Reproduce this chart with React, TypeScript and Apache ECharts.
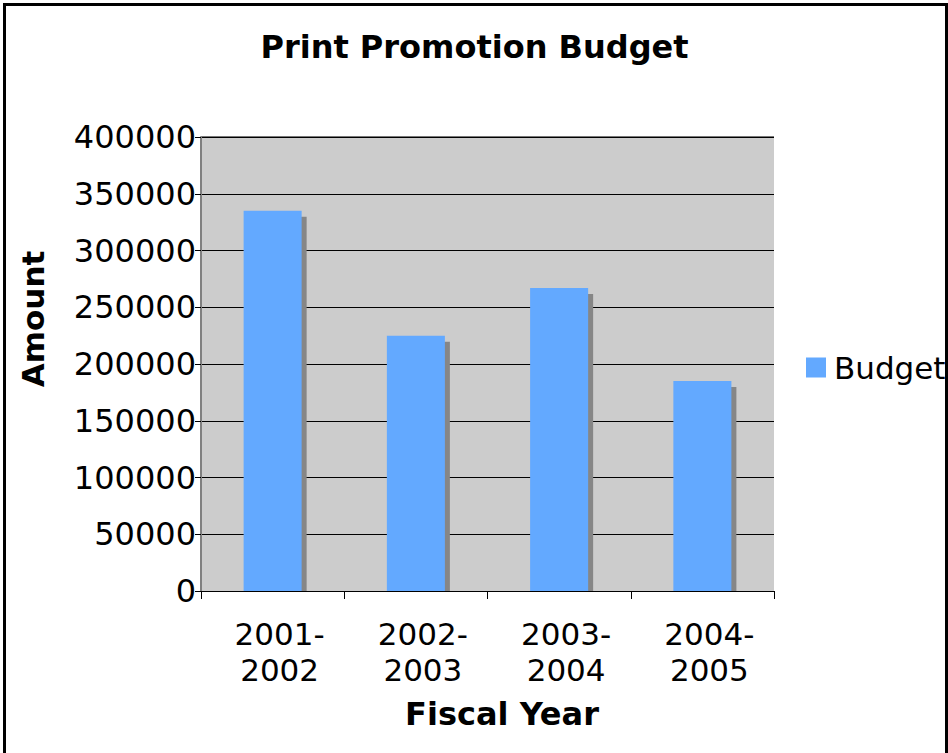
import React, { useEffect, useRef } from "react";
import * as echarts from "echarts";

const categories = ["2001-\n2002", "2002-\n2003", "2003-\n2004", "2004-\n2005"];
const budget = [335000, 225000, 267000, 185000];
const seriesName = "Budget";
const titleText = "Print Promotion Budget";
const xName = "Fiscal Year";
const yName = "Amount";

const BAR = "#63a9ff";
const SHADOW = "#868686";
const FONT = "DejaVu Sans";

export default function App() {
  const ref = useRef<HTMLDivElement>(null);
  useEffect(() => {
    const chart = echarts.init(ref.current!, null, { renderer: "svg" });
    chart.setOption({
      animation: false,
      backgroundColor: "#ffffff",
      legend: {
        left: 806,
        top: 352,
        padding: 0,
        itemWidth: 20,
        itemHeight: 20,
        data: [{ name: seriesName, icon: "rect", itemStyle: { color: BAR } }],
        textStyle: { fontFamily: FONT, fontSize: 31, color: "#000", padding: [0, 0, 0, 3] },
      },
      grid: {
        left: 201,
        top: 137,
        right: 948 - 774,
        bottom: 753 - 591,
        show: true,
        backgroundColor: "#cccccc",
        borderWidth: 0,
        containLabel: false,
      },
      xAxis: {
        type: "category",
        data: categories,
        axisLine: { show: true, lineStyle: { color: "#000", width: 1 } },
        axisTick: { show: true, length: 8, lineStyle: { color: "#000" }, alignWithLabel: false },
        axisLabel: {
          margin: 25,
          fontFamily: FONT,
          fontSize: 31,
          color: "#000",
          lineHeight: 36,
          interval: 0,
          padding: [0, 0, 0, 14],
        },
        splitLine: { show: false },
      },
      yAxis: {
        type: "value",
        min: 0,
        max: 400000,
        interval: 50000,
        axisLine: { show: true, lineStyle: { color: "#808080", width: 2 } },
        axisTick: { show: true, length: 6, lineStyle: { color: "#000" } },
        axisLabel: {
          margin: 5,
          fontFamily: FONT,
          fontSize: 32,
          color: "#000",
          padding: [6, 0, 0, 0],
          formatter: (v: number) => String(v),
        },
        splitLine: { show: true, lineStyle: { color: "#000", width: 1 } },
      },
      graphic: [
        {
          type: "text",
          x: 474.5,
          y: 47,
          style: {
            text: titleText,
            fontFamily: FONT,
            fontWeight: "bold",
            fontSize: 32,
            fill: "#000",
            align: "center",
            verticalAlign: "middle",
          },
        },
        {
          type: "text",
          x: 33,
          y: 319,
          rotation: Math.PI / 2,
          style: {
            text: yName,
            fontFamily: FONT,
            fontWeight: "bold",
            fontSize: 31,
            fill: "#000",
            align: "center",
            verticalAlign: "middle",
          },
        },
        {
          type: "text",
          x: 502,
          y: 714,
          style: {
            text: xName,
            fontFamily: FONT,
            fontWeight: "bold",
            fontSize: 32,
            fill: "#000",
            align: "center",
            verticalAlign: "middle",
          },
        },
        {
          type: "line",
          shape: { x1: 201, y1: 137, x2: 774, y2: 137 },
          style: { stroke: "#777", lineWidth: 2 },
        },
        {
          type: "polyline",
          shape: { points: [[4.5, 800], [4.5, 4.5], [946.5, 4.5], [946.5, 800]] },
          style: { stroke: "#000", lineWidth: 3, fill: "none" },
        },
      ],
      series: [
        {
          name: seriesName,
          type: "custom",
          data: budget,
          renderItem: (params: any, api: any) => {
            const v = api.value(0);
            const idx = params.dataIndex;
            const top = api.coord([idx, v]);
            const base = api.coord([idx, 0]);
            const bw = api.size([1, 0])[0] * 0.405;
            const x = top[0] - bw / 2;
            return {
              type: "group",
              children: [
                {
                  type: "rect",
                  shape: { x: x + 5, y: top[1] + 6, width: bw, height: base[1] - top[1] - 6 },
                  style: { fill: SHADOW },
                },
                {
                  type: "rect",
                  shape: { x: x, y: top[1], width: bw, height: base[1] - top[1] },
                  style: { fill: BAR },
                },
              ],
            };
          },
          encode: { x: -1, y: 0 },
        },
      ],
    });
    return () => chart.dispose();
  }, []);
  return (
    <div
      ref={ref}
      style={{ position: "absolute", left: 0, top: 0, width: 948, height: 753 }}
    />
  );
}
